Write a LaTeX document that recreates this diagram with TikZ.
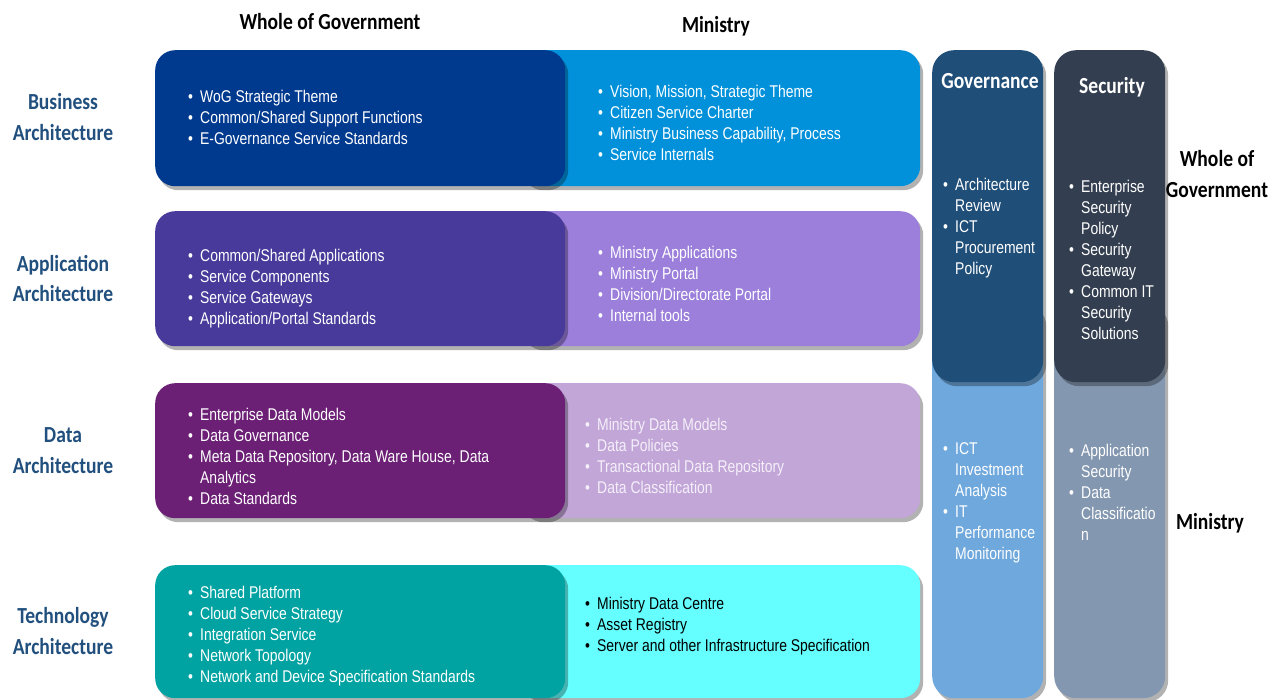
\documentclass[tikz,border=0pt]{standalone}
\usepackage{fontspec}
\setmainfont{Liberation Sans}
\newfontfamily\bodyfont[FakeStretch=0.82]{Liberation Sans}
\newfontfamily\headfont[FakeStretch=0.85]{Carlito}
\usetikzlibrary{shadows,calc}
\definecolor{wog1}{HTML}{003A8F}
\definecolor{min1}{HTML}{0091DA}
\definecolor{wog2}{HTML}{483A9A}
\definecolor{min2}{HTML}{9B7FDB}
\definecolor{wog3}{HTML}{6B1F75}
\definecolor{min3}{HTML}{C2A6D8}
\definecolor{min3txt}{HTML}{F4EFF9}
\definecolor{wog4}{HTML}{00A3A1}
\definecolor{min4}{HTML}{66FFFF}
\definecolor{govtop}{HTML}{1F4E79}
\definecolor{govbot}{HTML}{6FA8DC}
\definecolor{sectop}{HTML}{333F50}
\definecolor{secbot}{HTML}{8497B0}
\definecolor{lblblue}{HTML}{22507E}
\newcommand{\itm}[1]{\makebox[12pt][l]{•}#1}
\newcommand{\cnt}[1]{\hspace*{12pt}#1}
\tikzset{
  rowbox/.style={rounded corners=20pt, inner sep=0pt, anchor=north west, draw=none,
    drop shadow={shadow xshift=3pt, shadow yshift=-4pt, opacity=0.3, fill=black}},
  colbox/.style={rounded corners=22pt, inner sep=0pt, anchor=north west, draw=none,
    minimum width=111pt,
    drop shadow={shadow xshift=3pt, shadow yshift=-4pt, opacity=0.3, fill=black}},
  wogbox/.style={rowbox, minimum width=410pt},
  minbox/.style={rowbox, minimum width=400pt},
  blist/.style={font=\bodyfont\fontsize{17}{21}\selectfont, align=left, anchor=west,
    inner sep=0pt, text=white},
  head/.style={font=\headfont\bfseries\fontsize{23}{31}\selectfont, align=center, inner sep=0pt},
  lbl/.style={head, text=lblblue},
  toplbl/.style={head, text=black},
}
\begin{document}
\begin{tikzpicture}[x=1pt,y=-1pt]
\fill[white] (0,0) rectangle (1280,700);
\useasboundingbox (0,0) rectangle (1280,700);

% ---- row boxes
\node[minbox, fill=min1, minimum height=136pt] (m1) at (520,50) {};
\node[wogbox, fill=wog1, minimum height=136pt] (w1) at (155,50) {};
\node[minbox, fill=min2, minimum height=135pt] (m2) at (520,211) {};
\node[wogbox, fill=wog2, minimum height=135pt] (w2) at (155,211) {};
\node[minbox, fill=min3, minimum height=135pt] (m3) at (520,383) {};
\node[wogbox, fill=wog3, minimum height=135pt] (w3) at (155,383) {};
\node[minbox, fill=min4, minimum height=133pt] (m4) at (520,565) {};
\node[wogbox, fill=wog4, minimum height=133pt] (w4) at (155,565) {};

% ---- columns
\node[colbox, fill=govbot, minimum height=398pt] (gb) at (932,300) {};
\node[colbox, fill=govtop, minimum height=332pt] (gt) at (932,50) {};
\node[colbox, fill=secbot, minimum height=398pt] (sb) at (1054,300) {};
\node[colbox, fill=sectop, minimum height=332pt] (st) at (1054,50) {};

% ---- lists
\node[blist] (lw1) at (188,117) {\itm{WoG Strategic Theme}\\\itm{Common/Shared Support Functions}\\\itm{E-Governance Service Standards}};
\node[blist] (lm1) at (598,122.5) {\itm{Vision, Mission, Strategic Theme}\\\itm{Citizen Service Charter}\\\itm{Ministry Business Capability, Process}\\\itm{Service Internals}};
\node[blist] (lw2) at (188,288.5) {\itm{Common/Shared Applications}\\\itm{Service Components}\\\itm{Service Gateways}\\\itm{Application/Portal Standards}};
\node[blist] (lm2) at (598,283.5) {\itm{Ministry Applications}\\\itm{Ministry Portal}\\\itm{Division/Directorate Portal}\\\itm{Internal tools}};
\node[blist] (lw3) at (188,456) {\itm{Enterprise Data Models}\\\itm{Data Governance}\\\itm{Meta Data Repository, Data Ware House, Data}\\\cnt{Analytics}\\\itm{Data Standards}};
\node[blist, text=min3txt] (lm3) at (585,455.5) {\itm{Ministry Data Models}\\\itm{Data Policies}\\\itm{Transactional Data Repository}\\\itm{Data Classification}};
\node[blist] (lw4) at (188,636) {\itm{Shared Platform}\\\itm{Cloud Service Strategy}\\\itm{Integration Service}\\\itm{Network Topology}\\\itm{Network and Device Specification Standards}};
\node[blist, text=black] (lm4) at (585,626) {\itm{Ministry Data Centre}\\\itm{Asset Registry}\\\itm{Server and other Infrastructure Specification}};

\node[blist] (lg1) at (943,228) {\itm{Architecture}\\\cnt{Review}\\\itm{ICT}\\\cnt{Procurement}\\\cnt{Policy}};
\node[blist] (lg2) at (943,502.5) {\itm{ICT}\\\cnt{Investment}\\\cnt{Analysis}\\\itm{IT}\\\cnt{Performance}\\\cnt{Monitoring}};
\node[blist] (ls1) at (1069,259.5) {\itm{Enterprise}\\\cnt{Security}\\\cnt{Policy}\\\itm{Security}\\\cnt{Gateway}\\\itm{Common IT}\\\cnt{Security}\\\cnt{Solutions}};
\node[blist] (ls2) at (1069,492) {\itm{Application}\\\cnt{Security}\\\itm{Data}\\\cnt{Classificatio}\\\cnt{n}};

% ---- column headers
\node[head, text=white] (hg) at (990,81) {Governance};
\node[head, text=white] (hs) at (1112,87) {Security};

% ---- labels
\node[toplbl] (tw) at (330,22) {Whole of Government};
\node[toplbl] (tm) at (716,26) {Ministry};
\node[toplbl] (rw) at (1217,174) {Whole of\\Government};
\node[toplbl] (rm) at (1210,523) {Ministry};
\node[lbl] (la) at (63,117.5) {Business\\Architecture};
\node[lbl] (lb) at (63,278.5) {Application\\Architecture};
\node[lbl] (lc) at (63,450.5) {Data\\Architecture};
\node[lbl] (ld) at (63,631.5) {Technology\\Architecture};
\end{tikzpicture}
\end{document}
